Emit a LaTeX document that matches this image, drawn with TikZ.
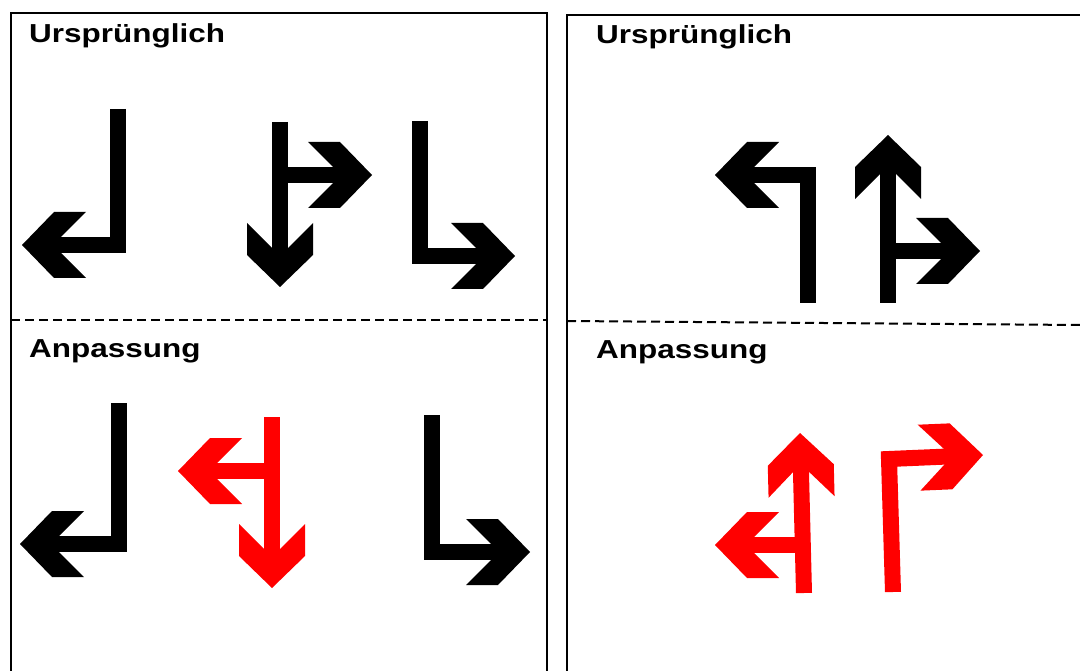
\documentclass[tikz,border=0pt]{standalone}
\usepackage{fontspec}
\setmainfont{Liberation Sans}
\usepackage{tikz}
\definecolor{myred}{RGB}{255,0,0}

\begin{document}
\begin{tikzpicture}[x=1pt,y=-1pt,
shaft/.style={
  line width=16pt,
  line join=miter,
  shorten >=20pt},
chevron/.pic={
  \fill (0,0) -- (-32,-33) -- (-64,-33) -- (-39,-8) -- (-39,8) -- (-64,33) -- (-32,33) -- cycle;},
title/.style={
  anchor=base west,
  inner sep=0pt,
  font=\fontsize{26}{30}\selectfont\bfseries,
  xscale=1.21,
  transform shape},
frame/.style={line width=2.5pt},
sep/.style={line width=2pt, dash pattern=on 9pt off 5pt},
]
\useasboundingbox (0,0) rectangle (1080,671);
\fill[white] (0,0) rectangle (1080,671);
\clip (0,0) rectangle (1080,671);

% panels
\draw[frame] (11,13) rectangle (547,700);
\draw[frame] (567,15) rectangle (1100,700);
\draw[sep] (11,320) -- (547,320);
\draw[sep] (567,321) -- (1080,325);

\node[title] (lorig) at (29,43) {Ursprünglich};
\node[title] (ladapt) at (29,358) {Anpassung};
\node[title] (rorig) at (596,44) {Ursprünglich};
\node[title] (radapt) at (596,359) {Anpassung};

% left panel, top row
\coordinate (a1s) at (117.5,109);
\coordinate (a1t) at (22,245);
\draw[shaft] (a1s) |- (a1t);
\pic[rotate=180] at (a1t) {chevron};

\coordinate (a2s) at (280,122);
\coordinate (a2t) at (280,287);
\coordinate (a2b) at (372,175);
\draw[shaft] (a2s) -- (a2t);
\draw[shaft] (a2s |- a2b) -- (a2b);
\pic[rotate=-90] at (a2t) {chevron};
\pic at (a2b) {chevron};

\coordinate (a3s) at (420,121);
\coordinate (a3t) at (515,256);
\draw[shaft] (a3s) |- (a3t);
\pic at (a3t) {chevron};

% left panel, bottom row
\coordinate (b1s) at (119,403);
\coordinate (b1t) at (20,544);
\draw[shaft] (b1s) |- (b1t);
\pic[rotate=180] at (b1t) {chevron};

\begin{scope}[color=myred]
\coordinate (b2s) at (272,417);
\coordinate (b2t) at (272,588);
\coordinate (b2b) at (178,471);
\draw[shaft] (b2s) -- (b2t);
\draw[shaft] (b2s |- b2b) -- (b2b);
\pic[rotate=-90] at (b2t) {chevron};
\pic[rotate=180] at (b2b) {chevron};
\end{scope}

\coordinate (b3s) at (431.5,415);
\coordinate (b3t) at (530,552);
\draw[shaft] (b3s) |- (b3t);
\pic at (b3t) {chevron};

% right panel, top row
\coordinate (c1s) at (808,303);
\coordinate (c1t) at (715,175);
\draw[shaft] (c1s) |- (c1t);
\pic[rotate=180] at (c1t) {chevron};

\coordinate (c2s) at (888,303);
\coordinate (c2t) at (888,135);
\coordinate (c2b) at (980,251);
\draw[shaft] (c2s) -- (c2t);
\draw[shaft] (c2s |- c2b) -- (c2b);
\pic[rotate=90] at (c2t) {chevron};
\pic at (c2b) {chevron};

% right panel, bottom row
\begin{scope}[color=myred]
\coordinate (d1s) at (804,593);
\coordinate (d1t) at (800,433);
\coordinate (d1j) at (802,545);
\coordinate (d1b) at (715,545);
\draw[shaft] (d1s) -- (d1t);
\draw[shaft] (d1j) -- (d1b);
\pic[rotate=91.4] at (d1t) {chevron};
\pic[rotate=180] at (d1b) {chevron};

\coordinate (d2s) at (893,592);
\coordinate (d2c) at (889,459);
\coordinate (d2t) at (983,455);
\draw[shaft] (d2s) -- (d2c) -- (d2t);
\pic[rotate=2.4] at (d2t) {chevron};
\end{scope}
\end{tikzpicture}
\end{document}
